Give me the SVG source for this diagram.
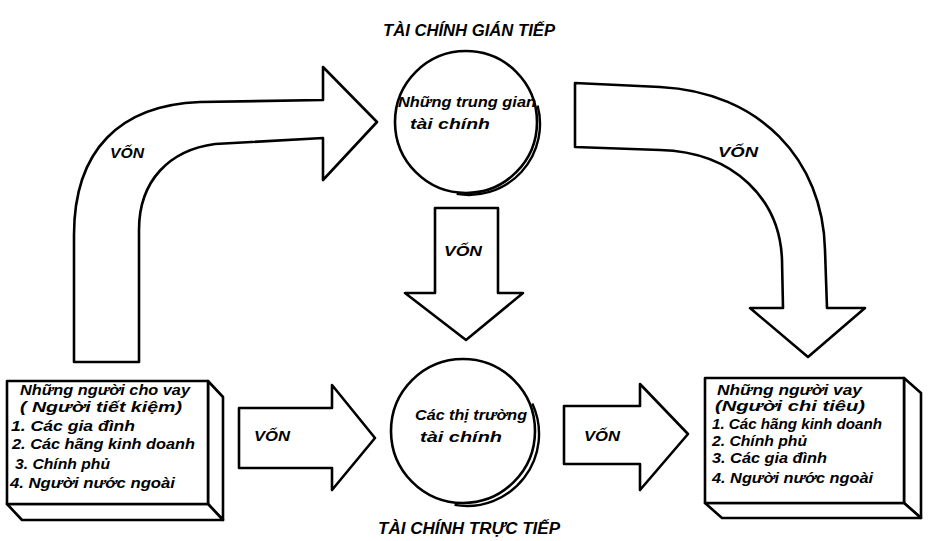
<svg xmlns="http://www.w3.org/2000/svg" width="928" height="541" viewBox="0 0 928 541">
<style>
.sh{fill:#fff;stroke:#000;stroke-width:2.6;stroke-linejoin:round}
.ln{fill:none;stroke:#000;stroke-width:2.4}
.t{font-family:"Liberation Sans",Arial,sans-serif;font-weight:bold;font-style:italic;fill:#000}
.bx{font-size:15px}
.rb{font-size:14px}
.lb{font-size:15px}
.ti{font-size:16px}
</style>
<rect width="928" height="541" fill="#fff"/>
<g id="connectors">
<g id="arrow-left-curve">
<path class="sh" d="M 74 362 L 74 235 C 74 150 120 105 200 102 L 323 100 L 323 67 L 377 122 L 323 180 L 323 138 L 215 144 C 170 150 139 180 139 230 L 139 362 Z"/>
<text class="t lb" x="127" y="158" text-anchor="middle" textLength="34" lengthAdjust="spacingAndGlyphs">VỐN</text>
</g>
<g id="arrow-right-curve">
<path class="sh" d="M 575 83 L 660 87 C 760 92 823 160 825 250 L 827 308 L 865 308 L 808 357 L 750 308 L 783 308 L 782 260 C 780 200 735 152 660 150 L 575 147 Z"/>
<text class="t lb" x="738" y="157" text-anchor="middle" textLength="40" lengthAdjust="spacingAndGlyphs">VỐN</text>
</g>
<g id="arrow-down">
<path class="sh" d="M 435 208 L 498 208 L 498 293 L 523 293 L 466 340 L 405 293 L 435 293 Z"/>
<text class="t lb" x="463" y="256" text-anchor="middle" textLength="38" lengthAdjust="spacingAndGlyphs">VỐN</text>
</g>
<g id="arrow-left-h">
<path class="sh" d="M 239 408 L 332 408 L 332 385 L 375 438 L 332 490 L 332 468 L 239 468 Z"/>
<text class="t lb" x="272" y="441" text-anchor="middle" textLength="36" lengthAdjust="spacingAndGlyphs">VỐN</text>
</g>
<g id="arrow-right-h">
<path class="sh" d="M 564 406 L 640 406 L 640 384 L 688 434 L 640 490 L 640 464 L 564 464 Z"/>
<text class="t lb" x="602" y="441" text-anchor="middle" textLength="36" lengthAdjust="spacingAndGlyphs">VỐN</text>
</g>
</g>
<g id="node-intermediaries">
<circle class="sh" cx="466" cy="122" r="71"/>
<path class="ln" d="M 537.6 105.6 A 71 71 0 0 1 456.7 193.9"/>
<text class="t bx" x="398" y="107" textLength="138" lengthAdjust="spacingAndGlyphs">Những trung gian</text>
<text class="t bx" x="410" y="129" textLength="80" lengthAdjust="spacingAndGlyphs">tài chính</text>
</g>
<text class="t ti" x="383" y="36" textLength="172" lengthAdjust="spacingAndGlyphs">TÀI CHÍNH GIÁN TIẾP</text>
<g id="node-markets">
<circle class="sh" cx="463" cy="431" r="72"/>
<path class="ln" d="M 532.3 403.6 A 72 72 0 0 1 454.5 504.9"/>
<text class="t bx" x="415" y="420" textLength="112" lengthAdjust="spacingAndGlyphs">Các thị trường</text>
<text class="t bx" x="420" y="442" textLength="82" lengthAdjust="spacingAndGlyphs">tài chính</text>
</g>
<text class="t ti" x="378" y="534" textLength="182" lengthAdjust="spacingAndGlyphs">TÀI CHÍNH TRỰC TIẾP</text>
<g id="node-lenders">
<polygon class="sh" points="208,381 223,397 223,520 208,504"/>
<polygon class="sh" points="7,504 208,504 223,520 22,520"/>
<rect class="sh" x="7" y="381" width="201" height="123"/>
<text class="t bx" x="20" y="395" textLength="170" lengthAdjust="spacingAndGlyphs">Những người cho vay</text>
<text class="t bx" x="20" y="412" textLength="162" lengthAdjust="spacingAndGlyphs">( Người tiết kiệm)</text>
<text class="t bx" x="11" y="431" textLength="124" lengthAdjust="spacingAndGlyphs">1. Các gia đình</text>
<text class="t bx" x="12" y="449" textLength="183" lengthAdjust="spacingAndGlyphs">2. Các hãng kinh doanh</text>
<text class="t bx" x="15" y="469" textLength="95" lengthAdjust="spacingAndGlyphs">3. Chính phủ</text>
<text class="t bx" x="10" y="488" textLength="165" lengthAdjust="spacingAndGlyphs">4. Người nước ngoài</text>
</g>
<g id="node-borrowers">
<polygon class="sh" points="904,378 921,393 921,518 904,503"/>
<polygon class="sh" points="705,503 904,503 921,518 722,518"/>
<rect class="sh" x="705" y="378" width="199" height="125"/>
<text class="t rb" x="717" y="395" textLength="145" lengthAdjust="spacingAndGlyphs">Những người vay</text>
<text class="t rb" x="715" y="411" textLength="150" lengthAdjust="spacingAndGlyphs">(Người chi tiêu)</text>
<text class="t rb" x="712" y="429" textLength="170" lengthAdjust="spacingAndGlyphs">1. Các hãng kinh doanh</text>
<text class="t rb" x="712" y="446" textLength="95" lengthAdjust="spacingAndGlyphs">2. Chính phủ</text>
<text class="t rb" x="712" y="463" textLength="115" lengthAdjust="spacingAndGlyphs">3. Các gia đình</text>
<text class="t rb" x="712" y="483" textLength="161" lengthAdjust="spacingAndGlyphs">4. Người nước ngoài</text>
</g>
</svg>
